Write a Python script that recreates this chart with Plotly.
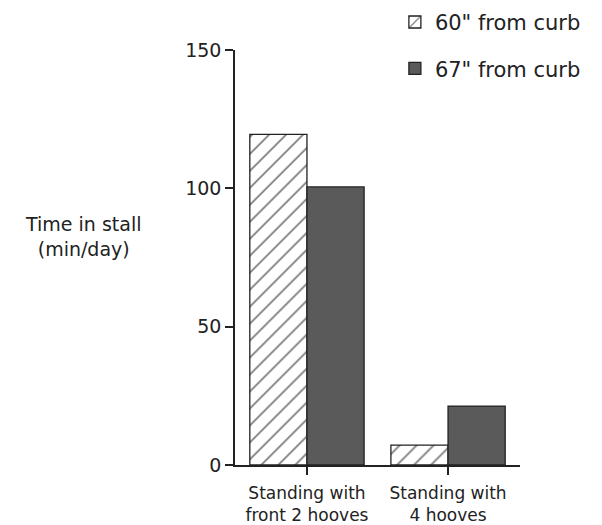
import plotly.graph_objects as go

categories = ["Standing with<br>front 2 hooves", "Standing with<br>4 hooves"]
series_names = ['60" from curb', '67" from curb']
values_60 = [119.5, 7.2]
values_67 = [100.5, 21.3]
y_ticks = [0, 50, 100, 150]

font_family = "DejaVu Sans, Arial, sans-serif"

fig = go.Figure()
fig.add_trace(go.Bar(
    x=categories, y=values_60, name=series_names[0], legendgroup="a",
    marker=dict(color="white", line=dict(color="#222", width=1.3),
                pattern=dict(shape="/", fgcolor="#000", bgcolor="white", size=12, solidity=0.15)),
))
fig.add_trace(go.Bar(
    x=categories, y=values_67, name=series_names[1], legendgroup="b",
    marker=dict(color="#5a5a5a", line=dict(color="#222", width=1.3)),
))

fig.update_layout(
    width=594, height=517,
    margin=dict(l=227, r=82, t=42, b=60, autoexpand=False),
    paper_bgcolor="white", plot_bgcolor="white",
    barmode="group", bargap=0.19, bargroupgap=0,
    font=dict(family=font_family, color="#222", size=16),
    showlegend=True,
    legend=dict(x=0.561, xanchor="left", y=1.116, yanchor="top",
                font=dict(size=21), tracegroupgap=16, traceorder="grouped",
                bgcolor="rgba(0,0,0,0)"),
    xaxis=dict(range=[-0.51, 1.51], showline=True, linecolor="#222", linewidth=1.5,
               ticks="outside", ticklen=8, tickcolor="#222", tickwidth=1.5,
               tickfont=dict(size=17), ticklabelstandoff=4,
               showgrid=False, zeroline=False),
    yaxis=dict(range=[0, 150], tickvals=y_ticks, showline=True, linecolor="#222", linewidth=1.5,
               ticks="outside", ticklen=8, tickcolor="#222", tickwidth=1.5,
               tickfont=dict(size=19), showgrid=False, zeroline=False),
    annotations=[dict(text="Time in stall<br>(min/day)", xref="paper", yref="paper",
                      x=-0.535, y=0.55, xanchor="center", yanchor="middle",
                      showarrow=False, font=dict(size=19), align="center")],
)

fig.write_html("out.html")
